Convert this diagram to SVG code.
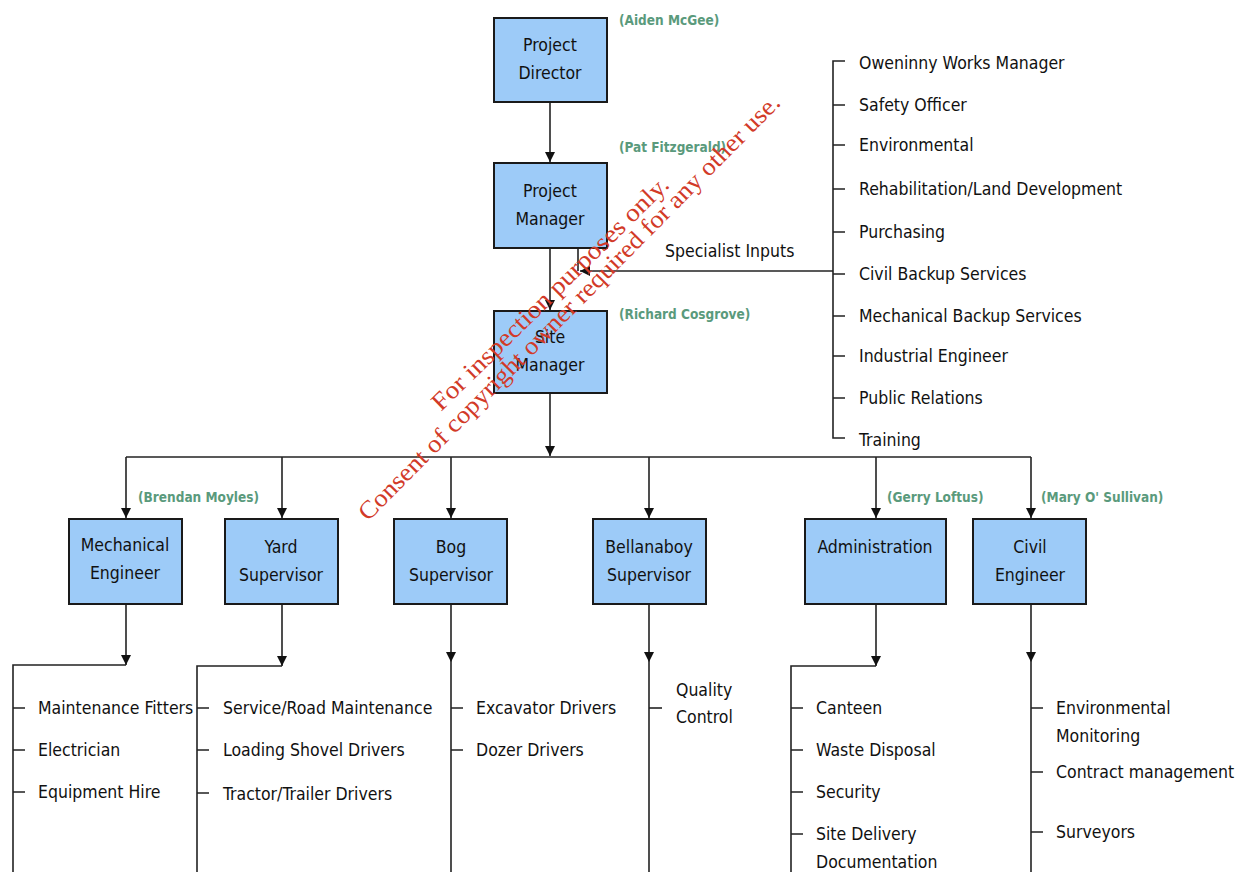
<svg xmlns="http://www.w3.org/2000/svg" width="1251" height="872" viewBox="0 0 1251 872">
  <defs>
    <marker id="arr" viewBox="0 0 10 10" refX="10" refY="5" markerWidth="10" markerHeight="10" markerUnits="userSpaceOnUse" orient="auto">
      <path d="M0,0 L10,5 L0,10 z" fill="#111"/>
    </marker>
    <style>
      .box { fill: #9dcbf8; stroke: #1a1a1a; stroke-width: 2; }
      .lbl { font-family: "DejaVu Sans Condensed", "DejaVu Sans", sans-serif; font-size: 17.5px; fill: #111; }
      .mid { text-anchor: middle; }
      .who { font-family: "DejaVu Sans Condensed", "DejaVu Sans", sans-serif; font-size: 13.5px; font-weight: bold; fill: #5a9a7c; }
      .ln { fill: none; stroke: #222; stroke-width: 1.6; }
      .wm { font-family: "Liberation Serif", "Times New Roman", serif; font-size: 25px; fill: #d23a28; }
    </style>
  </defs>
  <rect width="1251" height="872" fill="#fff"/>

  <!-- connectors -->
  <g id="connectors">
    <path class="ln" d="M550,102 V162" marker-end="url(#arr)"/>
    <path class="ln" d="M550,248 V310" marker-end="url(#arr)"/>
    <path class="ln" d="M578,248 V271"/>
    <path class="ln" d="M833,271 H580" marker-end="url(#arr)"/>
    <!-- specialist list bracket -->
    <path class="ln" d="M845,61 H833 V438 H845"/>
    <path class="ln" d="M833,105 H845 M833,145 H845 M833,189 H845 M833,232 H845 M833,274 H845 M833,316 H845 M833,356 H845 M833,398 H845"/>
    <!-- site manager to bus -->
    <path class="ln" d="M550,393 V456" marker-end="url(#arr)"/>
    <path class="ln" d="M126,457 H1031"/>
    <path class="ln" d="M126,457 V518" marker-end="url(#arr)"/>
    <path class="ln" d="M282,457 V518" marker-end="url(#arr)"/>
    <path class="ln" d="M451,457 V518" marker-end="url(#arr)"/>
    <path class="ln" d="M649,457 V518" marker-end="url(#arr)"/>
    <path class="ln" d="M876,457 V518" marker-end="url(#arr)"/>
    <path class="ln" d="M1031,457 V518" marker-end="url(#arr)"/>
    <!-- mechanical engineer branch -->
    <path class="ln" d="M126,604 V665" marker-end="url(#arr)"/>
    <path class="ln" d="M126,665 H13 V872"/>
    <path class="ln" d="M13,708 H25 M13,750 H25 M13,792 H25"/>
    <!-- yard supervisor branch -->
    <path class="ln" d="M282,604 V666" marker-end="url(#arr)"/>
    <path class="ln" d="M282,666 H197 V872"/>
    <path class="ln" d="M197,708 H209 M197,750 H209 M197,793 H209"/>
    <!-- bog supervisor branch -->
    <path class="ln" d="M451,604 V662" marker-end="url(#arr)"/>
    <path class="ln" d="M451,662 V872"/>
    <path class="ln" d="M451,708 H463 M451,750 H463"/>
    <!-- bellanaboy supervisor branch -->
    <path class="ln" d="M649,604 V662" marker-end="url(#arr)"/>
    <path class="ln" d="M649,662 V872"/>
    <path class="ln" d="M649,708 H662"/>
    <!-- administration branch -->
    <path class="ln" d="M876,604 V666" marker-end="url(#arr)"/>
    <path class="ln" d="M876,666 H791 V872"/>
    <path class="ln" d="M791,708 H803 M791,750 H803 M791,792 H803 M791,834 H803"/>
    <!-- civil engineer branch -->
    <path class="ln" d="M1031,604 V662" marker-end="url(#arr)"/>
    <path class="ln" d="M1031,662 V872"/>
    <path class="ln" d="M1031,708 H1043 M1031,772 H1043 M1031,832 H1043"/>
  </g>

  <g id="project-director">
    <rect class="box" x="494" y="18" width="113" height="84"/>
    <text class="lbl mid" x="550" y="51">Project</text>
    <text class="lbl mid" x="550" y="79">Director</text>
    <text class="who" x="619" y="25">(Aiden McGee)</text>
  </g>
  <g id="project-manager">
    <rect class="box" x="494" y="163" width="113" height="85"/>
    <text class="lbl mid" x="550" y="197">Project</text>
    <text class="lbl mid" x="550" y="225">Manager</text>
    <text class="who" x="619" y="152">(Pat Fitzgerald)</text>
  </g>
  <g id="site-manager">
    <rect class="box" x="494" y="311" width="113" height="82"/>
    <text class="lbl mid" x="550" y="343">Site</text>
    <text class="lbl mid" x="550" y="371">Manager</text>
    <text class="who" x="619" y="319">(Richard Cosgrove)</text>
  </g>
  <g id="specialist-inputs">
    <text class="lbl" x="665" y="257">Specialist Inputs</text>
    <text class="lbl" x="859" y="69">Oweninny Works Manager</text>
    <text class="lbl" x="859" y="111">Safety Officer</text>
    <text class="lbl" x="859" y="151">Environmental</text>
    <text class="lbl" x="859" y="195">Rehabilitation/Land Development</text>
    <text class="lbl" x="859" y="238">Purchasing</text>
    <text class="lbl" x="859" y="280">Civil Backup Services</text>
    <text class="lbl" x="859" y="322">Mechanical Backup Services</text>
    <text class="lbl" x="859" y="362">Industrial Engineer</text>
    <text class="lbl" x="859" y="404">Public Relations</text>
    <text class="lbl" x="859" y="446">Training</text>
  </g>

  <g id="mechanical-engineer">
    <rect class="box" x="69" y="519" width="113" height="85"/>
    <text class="lbl mid" x="125" y="551">Mechanical</text>
    <text class="lbl mid" x="125" y="579">Engineer</text>
    <text class="who" x="138" y="502">(Brendan Moyles)</text>
    <text class="lbl" x="38" y="714">Maintenance Fitters</text>
    <text class="lbl" x="38" y="756">Electrician</text>
    <text class="lbl" x="38" y="798">Equipment Hire</text>
  </g>
  <g id="yard-supervisor">
    <rect class="box" x="225" y="519" width="113" height="85"/>
    <text class="lbl mid" x="281" y="553">Yard</text>
    <text class="lbl mid" x="281" y="581">Supervisor</text>
    <text class="lbl" x="223" y="714">Service/Road Maintenance</text>
    <text class="lbl" x="223" y="756">Loading Shovel Drivers</text>
    <text class="lbl" x="223" y="800">Tractor/Trailer Drivers</text>
  </g>
  <g id="bog-supervisor">
    <rect class="box" x="394" y="519" width="113" height="85"/>
    <text class="lbl mid" x="451" y="553">Bog</text>
    <text class="lbl mid" x="451" y="581">Supervisor</text>
    <text class="lbl" x="476" y="714">Excavator Drivers</text>
    <text class="lbl" x="476" y="756">Dozer Drivers</text>
  </g>
  <g id="bellanaboy-supervisor">
    <rect class="box" x="593" y="519" width="113" height="85"/>
    <text class="lbl mid" x="649" y="553">Bellanaboy</text>
    <text class="lbl mid" x="649" y="581">Supervisor</text>
    <text class="lbl" x="676" y="696">Quality</text>
    <text class="lbl" x="676" y="723">Control</text>
  </g>
  <g id="administration">
    <rect class="box" x="805" y="519" width="141" height="85"/>
    <text class="lbl mid" x="875" y="553">Administration</text>
    <text class="who" x="887" y="502">(Gerry Loftus)</text>
    <text class="lbl" x="816" y="714">Canteen</text>
    <text class="lbl" x="816" y="756">Waste Disposal</text>
    <text class="lbl" x="816" y="798">Security</text>
    <text class="lbl" x="816" y="840">Site Delivery</text>
    <text class="lbl" x="816" y="868">Documentation</text>
  </g>
  <g id="civil-engineer">
    <rect class="box" x="973" y="519" width="113" height="85"/>
    <text class="lbl mid" x="1030" y="553">Civil</text>
    <text class="lbl mid" x="1030" y="581">Engineer</text>
    <text class="who" x="1041" y="502">(Mary O' Sullivan)</text>
    <text class="lbl" x="1056" y="714">Environmental</text>
    <text class="lbl" x="1056" y="742">Monitoring</text>
    <text class="lbl" x="1056" y="778">Contract management</text>
    <text class="lbl" x="1056" y="838">Surveyors</text>
  </g>

  <!-- diagonal notice across the centre -->
  <g id="notice">
    <text class="wm" transform="translate(441,412) rotate(-44.5)" textLength="322" lengthAdjust="spacingAndGlyphs">For inspection purposes only.</text>
    <text class="wm" transform="translate(368,522) rotate(-45.3)" textLength="588" lengthAdjust="spacingAndGlyphs">Consent of copyright owner required for any other use.</text>
  </g>
</svg>
